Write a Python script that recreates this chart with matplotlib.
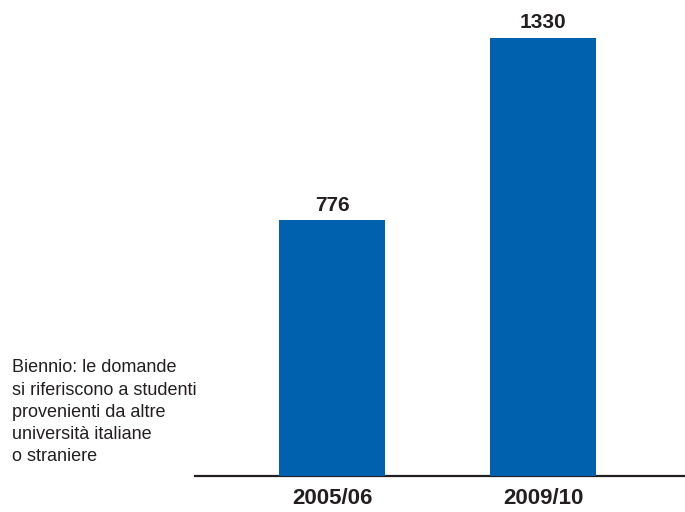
import matplotlib
matplotlib.use("Agg")
import matplotlib.pyplot as plt

categories = ["2005/06", "2009/10"]
values = [776, 1330]
note = "Biennio: le domande\nsi riferiscono a studenti\nprovenienti da altre\nuniversità italiane\no straniere"

W, H = 685, 512
fig = plt.figure(figsize=(W / 100, H / 100), dpi=100)
fig.patch.set_facecolor("white")

left, right, bottom, top = 195, 685, 476, 38
ax = fig.add_axes([left / W, (H - bottom) / H, (right - left) / W, (bottom - top) / H])
ax.set_facecolor("none")

x = list(range(len(categories)))
bars = ax.bar(x, values, width=0.502, color="#0062AE", zorder=3)
ax.set_xlim(-0.649, 1.673)
ax.set_ylim(0, max(values))

for xi, v in zip(x, values):
    ax.annotate(str(v), (xi, v), xytext=(0, 4), textcoords="offset points",
                ha="center", va="bottom", fontsize=15, fontweight="bold",
                family="Liberation Sans", color="#231f20", annotation_clip=False)

for s in ["top", "right", "left"]:
    ax.spines[s].set_visible(False)
ax.spines["bottom"].set_linewidth(1.6)
ax.spines["bottom"].set_color("#231f20")
ax.set_yticks([])
ax.set_xticks(x)
ax.set_xticklabels(categories, fontsize=16, fontweight="bold", family="Liberation Sans", color="#231f20")
ax.tick_params(axis="x", length=0, pad=8.5)

fig.text(12 / W, 1 - 359.5 / H, note, ha="left", va="top", fontsize=13,
         family="Liberation Sans", color="#231f20", linespacing=1.39)

fig.savefig("out.png", dpi=100, facecolor="white")
